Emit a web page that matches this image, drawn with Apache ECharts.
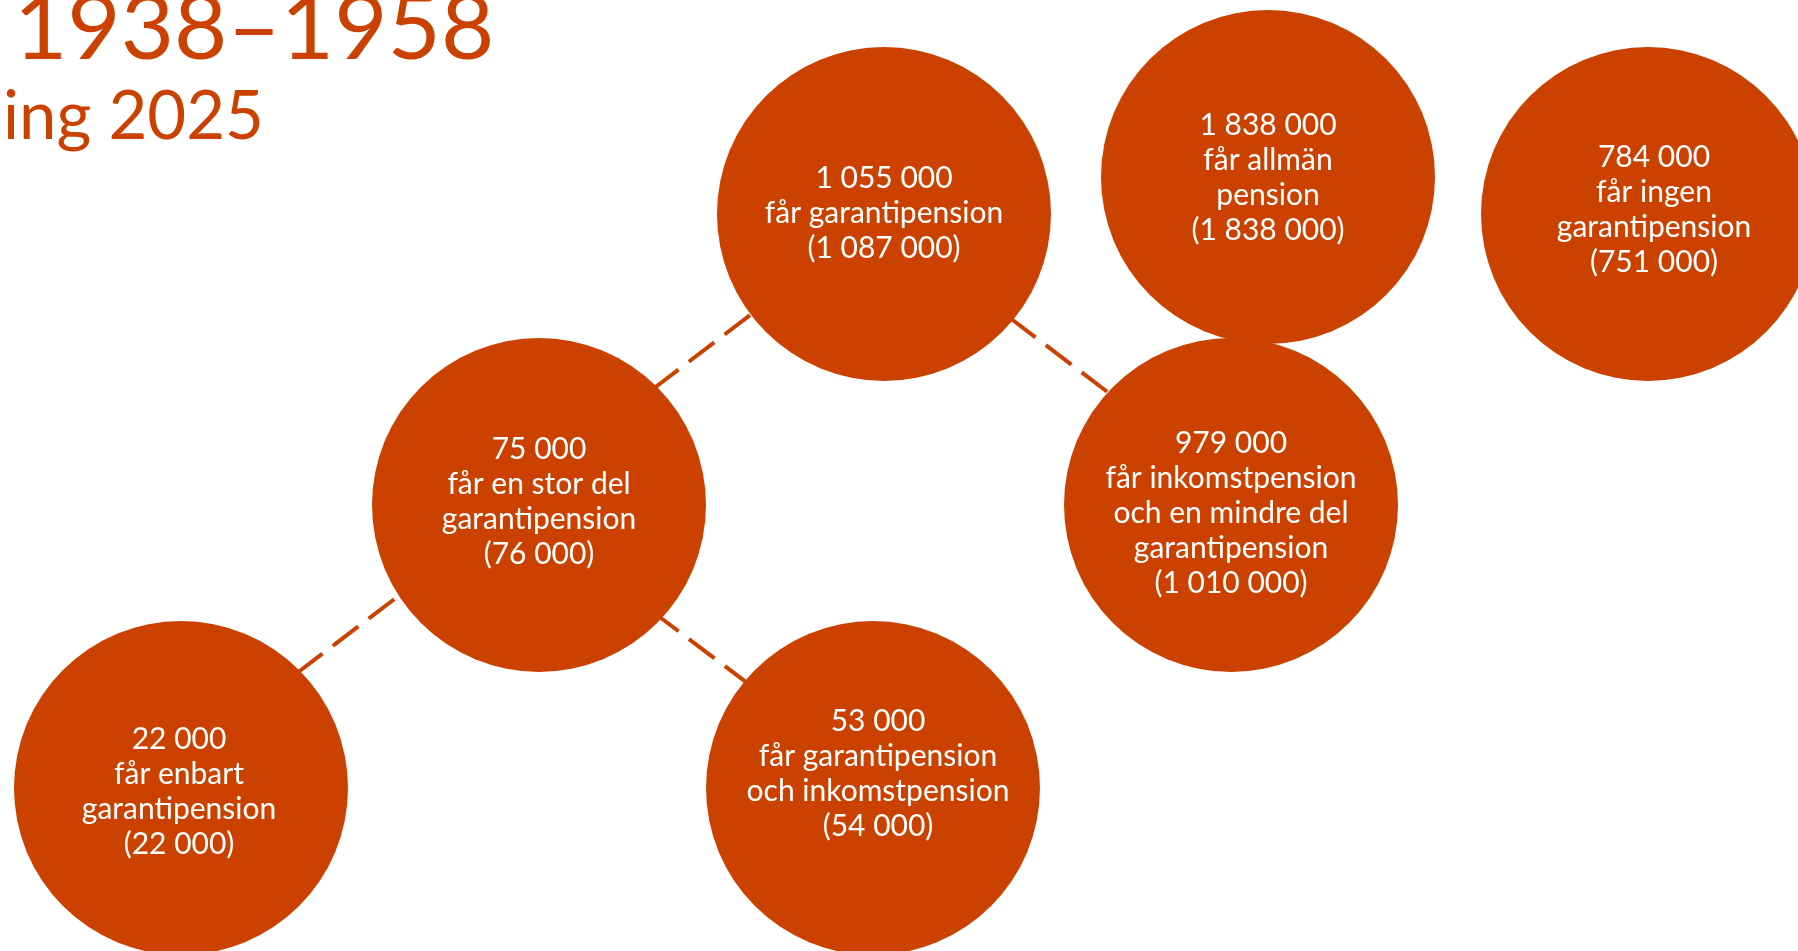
<!DOCTYPE html>
<html>
<head>
<meta charset="utf-8">
<title>Garantipension 1938–1958</title>
<script src="https://cdn.jsdelivr.net/npm/echarts@6/dist/echarts.min.js"></script>
<style>
  html, body { margin: 0; padding: 0; background: #fff; }
  #chart { width: 1798px; height: 951px; }
</style>
</head>
<body>
<div id="chart"></div>
<script>
// title fragments (the picture is cropped on top and left)
const titleLines = ['1938–1958', 'ing 2025']

// number of people per group, 2025 and (in parentheses) the previous figure
const counts = [1055000, 1838000, 784000, 75000, 979000, 22000, 53000]
const prevCounts = [1087000, 1838000, 751000, 76000, 1010000, 22000, 54000]
const captions = [
  'får garantipension',
  'får allmän\npension',
  'får ingen\ngarantipension',
  'får en stor del\ngarantipension',
  'får inkomstpension\noch en mindre del\ngarantipension',
  'får enbart\ngarantipension',
  'får garantipension\noch inkomstpension'
]

// where each bubble sits on the (hidden) layout axes
const nodeX = [884, 1268, 1648, 539, 1231, 181, 873]
const nodeY = [214, 177, 214, 505, 505, 788, 788]

// dashed connectors between bubbles
const linkX1 = [297, 653, 653, 1010]
const linkY1 = [673, 389, 612, 318]
const linkX2 = [405, 762, 762, 1122]
const linkY2 = [591, 306, 694, 403]

const ORANGE = '#CB4200'
const labelShiftX = [0, 0, 6, 0, 0, -2, 5]
const labelShiftY = [-1, 1, -4, -3, 8, 4, -14]

const fmt = n => String(n).replace(/\B(?=(\d{3})+(?!\d))/g, ' ')

const chart = echarts.init(document.getElementById('chart'))

const bubbles = nodeX.map((x, i) => ({
  value: [x, nodeY[i]],
  label: { offset: [labelShiftX[i], labelShiftY[i]] }
}))

const links = linkX1.map((x, i) => ({
  coords: [[x, linkY1[i]], [linkX2[i], linkY2[i]]]
}))

chart.setOption({
  animation: false,
  backgroundColor: '#fff',
  title: [
    {
      text: titleLines[0],
      left: 14,
      top: -17,
      padding: 0,
      textStyle: { fontFamily: 'Lato', fontWeight: 'normal', fontSize: 92, lineHeight: 92, color: ORANGE }
    },
    {
      text: titleLines[1],
      left: 3,
      top: 84,
      padding: 0,
      textStyle: { fontFamily: 'Lato', fontWeight: 'normal', fontSize: 67, lineHeight: 67, color: ORANGE }
    }
  ],
  grid: { left: 0, right: 0, top: 0, bottom: 0 },
  xAxis: { type: 'value', min: 0, max: 1798, show: false },
  yAxis: { type: 'value', min: 0, max: 951, inverse: true, show: false },
  series: [
    {
      type: 'lines',
      coordinateSystem: 'cartesian2d',
      silent: true,
      z: 1,
      lineStyle: { color: ORANGE, width: 4, type: [32, 13], opacity: 1, cap: 'butt' },
      data: links
    },
    {
      type: 'scatter',
      z: 2,
      symbol: 'circle',
      symbolSize: 334,
      itemStyle: { color: ORANGE, opacity: 1 },
      label: {
        show: true,
        position: 'inside',
        color: '#fff',
        fontFamily: 'Lato',
        fontSize: 30,
        lineHeight: 35,
        align: 'center',
        formatter: p => fmt(counts[p.dataIndex]) + '\n' + captions[p.dataIndex] + '\n(' + fmt(prevCounts[p.dataIndex]) + ')'
      },
      emphasis: { disabled: true },
      data: bubbles
    }
  ]
})

window.addEventListener('resize', () => chart.resize())
</script>
</body>
</html>
